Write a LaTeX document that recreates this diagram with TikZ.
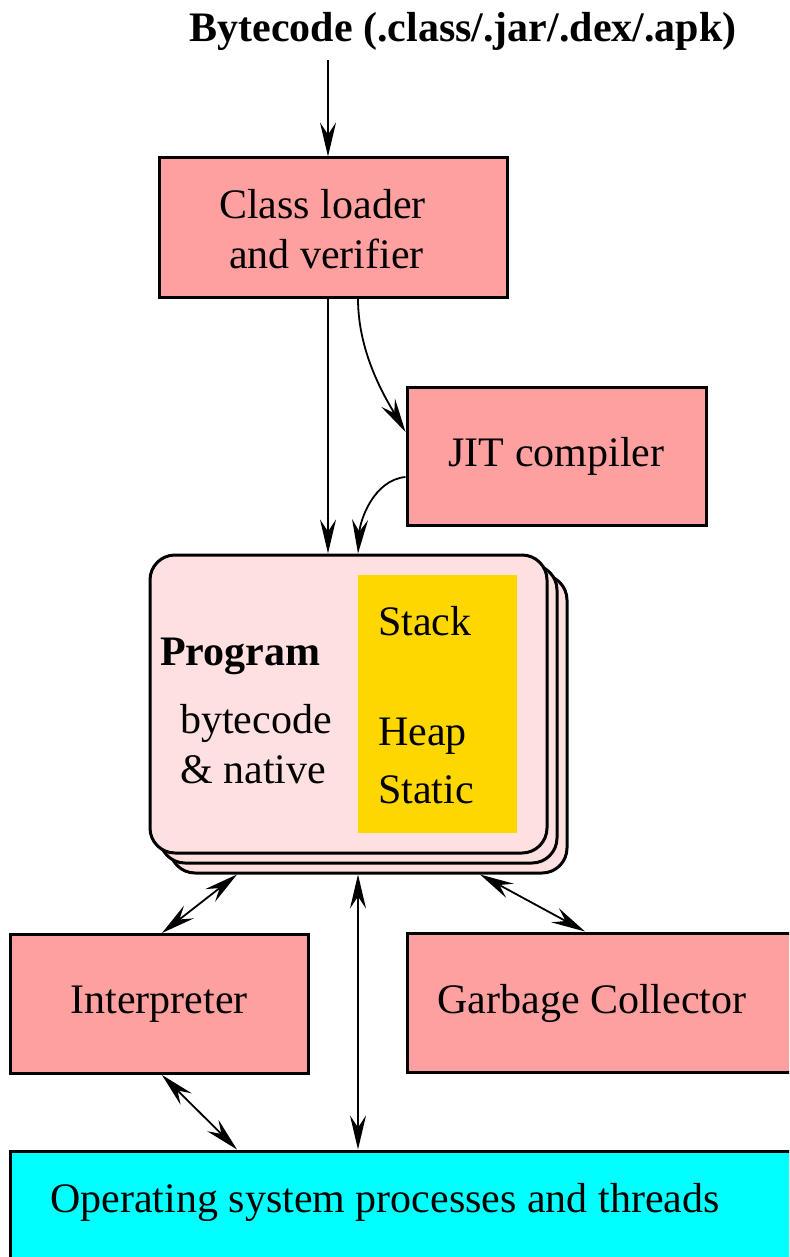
\documentclass[tikz,border=0pt]{standalone}
\usepackage{fontspec}
\setmainfont{Liberation Serif}
\usetikzlibrary{arrows.meta,calc}
\definecolor{salmon}{HTML}{FFA0A0}
\definecolor{progpink}{HTML}{FFE0E0}
\definecolor{memgold}{HTML}{FFD700}
\definecolor{oscyan}{HTML}{00FFFF}
\newcommand\jvmfont{\fontsize{42}{50}\selectfont}
\tikzset{
  box/.style={draw, line width=3pt, fill=salmon, inner sep=0pt, font=\jvmfont, align=center},
  progbox/.style={draw, line width=3pt, fill=progpink, rounded corners=25pt, inner sep=0pt,
                  minimum width=397pt, minimum height=298pt},
  txt/.style={inner sep=0pt, font=\jvmfont},
  tip/.tip={Stealth[length=34pt,width=16pt,inset=12pt]},
  conn/.style={line width=1.8pt, -tip},
  dconn/.style={line width=1.8pt, tip-tip},
}
\begin{document}
\begin{tikzpicture}[x=1pt,y=-1pt]
\useasboundingbox (0,0) rectangle (789,1257);
\path[clip] (0,0) rectangle (789,1257);
\fill[white] (0,0) rectangle (789,1257);

\node[txt, anchor=base] (bc) at (463,42) {\bfseries Bytecode (.class/.jar/.dex/.apk)};
\coordinate (src) at (328,60);

\node[box, minimum width=348pt, minimum height=139pt] (cl) at (333,227.5) {};
\node[txt, anchor=base] (cltext1) at (322.5,219) {Class loader};
\node[txt, anchor=base] (cltext2) at (326.5,269) {and verifier};
\node[box, minimum width=299pt, minimum height=138pt] (jit) at (556.5,456) {JIT compiler};

\node[progbox] (progc) at (368.5,724) {};
\node[progbox] (progb) at (358.5,714) {};
\node[progbox] (prog) at (348.5,704) {};
\node[fill=memgold, inner sep=0pt, minimum width=159pt, minimum height=258pt] (mem) at (437.5,704) {};
\node[txt, anchor=base west] (stack) at (378,635) {Stack};
\node[txt, anchor=base west] (heap) at (378,745) {Heap};
\node[txt, anchor=base west] (static) at (378,803) {Static};
\node[txt, anchor=base west] (pname) at (160,665) {\bfseries Program};
\node[txt, anchor=base west] (bcode) at (180,733) {bytecode};
\node[txt, anchor=base west] (native) at (180,783) {\& native};

\node[box, minimum width=298pt, minimum height=139pt] (interp) at (159,1004) {Interpreter};
\node[box, minimum width=433pt, minimum height=139pt] (gc) at (623.5,1002.5) {};
\node[txt, anchor=base] (gctext) at (592,1013) {Garbage Collector};
\node[box, fill=oscyan, minimum width=830pt, minimum height=160pt] (os) at (425,1231) {};
\node[txt, anchor=base] (ostext) at (385,1212) {Operating system processes and threads};

\draw[conn] (src) -- ([xshift=-5pt]cl.north);
\draw[conn] ([xshift=-5pt]cl.south) -- ([xshift=-20.5pt]prog.north);
\draw[conn] ([xshift=25pt]cl.south) .. controls +(0,53) and +(-22,-37) .. ([yshift=24pt]jit.west);
\draw[conn] ([yshift=-21pt]jit.west) .. controls +(-32,3) and +(2,-33) .. ([xshift=9.5pt]prog.north);

\draw[dconn] ([xshift=-131.5pt]progc.south) -- ([xshift=3pt]interp.north);
\draw[dconn] ([xshift=111.5pt]progc.south) -- ([xshift=-38.5pt]gc.north);
\draw[dconn] ([xshift=-10.5pt]progc.south) -- ([xshift=-67pt]os.north);
\draw[dconn] ([xshift=3pt]interp.south) -- ([xshift=-188pt]os.north);
\end{tikzpicture}
\end{document}
